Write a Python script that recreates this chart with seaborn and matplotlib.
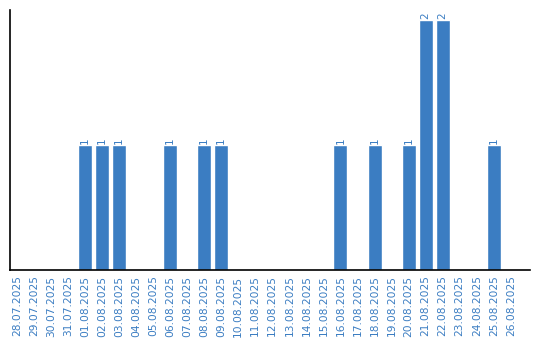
import matplotlib
matplotlib.use("Agg")
import matplotlib.pyplot as plt
import seaborn as sns
import pandas as pd

dates = ["28.07.2025", "29.07.2025", "30.07.2025", "31.07.2025", "01.08.2025",
         "02.08.2025", "03.08.2025", "04.08.2025", "05.08.2025", "06.08.2025",
         "07.08.2025", "08.08.2025", "09.08.2025", "10.08.2025", "11.08.2025",
         "12.08.2025", "13.08.2025", "14.08.2025", "15.08.2025", "16.08.2025",
         "17.08.2025", "18.08.2025", "19.08.2025", "20.08.2025", "21.08.2025",
         "22.08.2025", "23.08.2025", "24.08.2025", "25.08.2025", "26.08.2025"]
counts = [0, 0, 0, 0, 1,
          1, 1, 0, 0, 1,
          0, 1, 1, 0, 0,
          0, 0, 0, 0, 1,
          0, 1, 0, 1, 2,
          2, 0, 0, 1, 0]

blue = "#3b7dc2"
df = pd.DataFrame({"date": dates, "count": counts})

sns.set_style("white")
plt.rcParams["font.family"] = ["DejaVu Sans"]

fig = plt.figure(figsize=(5.4, 3.4), dpi=100)
ax = fig.add_axes([10/540, 70/340, 520/540, 260/340])
sns.barplot(data=df, x="date", y="count", color=blue, saturation=1, width=0.82, ax=ax)

for i, v in enumerate(counts):
    if v > 0:
        ax.text(i, v + 0.01, str(v), rotation=90, ha="center", va="bottom",
                color=blue, fontsize=7.5)

ax.set_ylim(0, 2.08)
ax.set_xlim(-0.405, 30.13)
ax.set_xlabel("")
ax.set_ylabel("")
ax.set_yticks([])
ax.tick_params(axis="x", length=0, pad=4, labelsize=7.7, labelcolor=blue, rotation=90)
for s in ["top", "right"]:
    ax.spines[s].set_visible(False)
for s in ["left", "bottom"]:
    ax.spines[s].set_color("black")
    ax.spines[s].set_linewidth(1.2)

fig.savefig("out.png", dpi=100)
